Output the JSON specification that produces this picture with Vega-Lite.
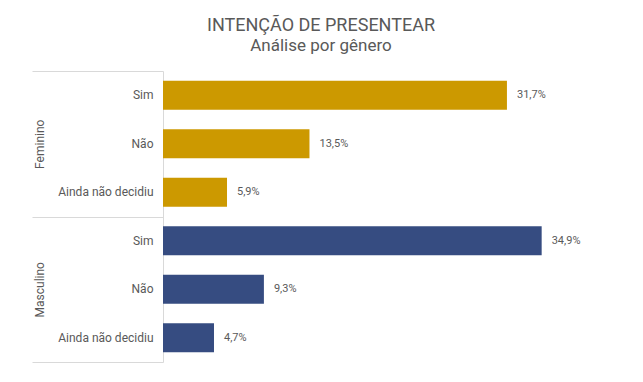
{
  "$schema": "https://vega.github.io/schema/vega-lite/v6.json",
  "width": 434,
  "height": 291,
  "autosize": {"type": "none"},
  "padding": {"left": 163, "top": 71, "right": 46, "bottom": 20},
  "background": "white",
  "config": {
    "view": {"stroke": null},
    "font": "Roboto",
    "locale": {"number": {"decimal": ",", "thousands": ".", "grouping": [3], "currency": ["R$", ""]}}
  },
  "title": {
    "text": "INTENÇÃO DE PRESENTEAR",
    "subtitle": "Análise por gênero",
    "anchor": "middle",
    "dx": -59,
    "offset": 17,
    "font": "Roboto",
    "fontSize": 18,
    "fontWeight": "normal",
    "color": "#595959",
    "subtitleFont": "Roboto",
    "subtitleFontSize": 17,
    "subtitleColor": "#595959",
    "subtitlePadding": 3
  },
  "data": {
    "values": [
      {"genero": "Feminino", "resposta": "Sim", "chave": "Feminino|Sim", "valor": 0.317},
      {"genero": "Feminino", "resposta": "Não", "chave": "Feminino|Não", "valor": 0.135},
      {"genero": "Feminino", "resposta": "Ainda não decidiu", "chave": "Feminino|Ainda não decidiu", "valor": 0.059},
      {"genero": "Masculino", "resposta": "Sim", "chave": "Masculino|Sim", "valor": 0.349},
      {"genero": "Masculino", "resposta": "Não", "chave": "Masculino|Não", "valor": 0.093},
      {"genero": "Masculino", "resposta": "Ainda não decidiu", "chave": "Masculino|Ainda não decidiu", "valor": 0.047}
    ]
  },
  "layer": [
    {
      "encoding": {
        "y": {
          "field": "chave",
          "type": "nominal",
          "sort": null,
          "scale": {"paddingInner": 0.4, "paddingOuter": 0.2},
          "axis": {
            "title": null,
            "orient": "left",
            "labelExpr": "split(datum.label, '|')[1]",
            "ticks": false,
            "domain": true,
            "domainColor": "#D9D9D9",
            "labelPadding": 10,
            "labelFontSize": 12,
            "labelColor": "#595959",
            "labelFont": "Roboto"
          }
        },
        "x": {
          "field": "valor",
          "type": "quantitative",
          "scale": {"domain": [0, 0.4]},
          "axis": null
        }
      },
      "layer": [
        {
          "mark": {"type": "bar"},
          "encoding": {
            "color": {
              "field": "genero",
              "type": "nominal",
              "scale": {"domain": ["Feminino", "Masculino"], "range": ["#CC9900", "#364C81"]},
              "legend": null
            }
          }
        },
        {
          "mark": {"type": "text", "align": "left", "dx": 10, "fontSize": 11, "color": "#595959", "font": "Roboto"},
          "encoding": {
            "text": {"field": "valor", "type": "quantitative", "format": ".1%"}
          }
        }
      ]
    },
    {
      "mark": {"type": "point", "opacity": 0},
      "encoding": {
        "y": {
          "field": "genero",
          "type": "nominal",
          "sort": null,
          "scale": {"paddingInner": 0, "paddingOuter": 0},
          "axis": {
            "title": null,
            "orient": "left",
            "domain": false,
            "ticks": true,
            "tickBand": "extent",
            "tickSize": 131,
            "tickColor": "#D9D9D9",
            "labelAngle": -90,
            "labelAlign": "center",
            "labelBaseline": "bottom",
            "labelPadding": -14,
            "labelFontSize": 12,
            "labelColor": "#595959",
            "labelFont": "Roboto"
          }
        }
      }
    }
  ],
  "resolve": {"scale": {"y": "independent"}, "axis": {"y": "independent"}}
}
